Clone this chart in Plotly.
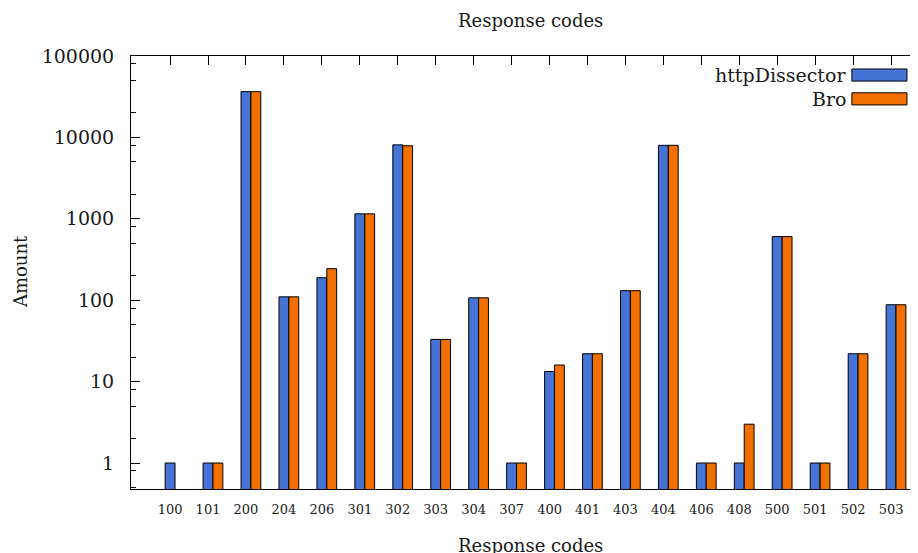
import plotly.graph_objects as go

codes = ["100", "101", "200", "204", "206", "301", "302", "303", "304", "307",
         "400", "401", "403", "404", "406", "408", "500", "501", "502", "503"]
http_dissector = [1, 1, 36500, 110, 189, 1150, 8100, 33, 107, 1,
                  13.3, 22, 131, 8000, 1, 1, 605, 1, 22, 88]
bro = [None, 1, 36500, 110, 244, 1150, 7900, 33, 107, 1,
       16, 22, 131, 8000, 1, 3, 605, 1, 22, 88]
series_names = ["httpDissector", "Bro"]
colors = ["#4573D6", "#F27000"]

FONT = "DejaVu Serif"
TXT = "#1a1a1a"

fig = go.Figure()
fig.add_trace(go.Bar(x=codes, y=http_dissector, name=series_names[0],
                     marker=dict(color=colors[0], line=dict(color="black", width=1)),
                     width=0.26, offset=-0.13, showlegend=False))
fig.add_trace(go.Bar(x=codes, y=bro, name=series_names[1],
                     marker=dict(color=colors[1], line=dict(color="black", width=1)),
                     width=0.26, offset=0.13, showlegend=False))

minor_vals = []
for e in range(-1, 6):
    for m in (2, 5, 8):
        minor_vals.append(m * 10 ** e)

# page body has an 8px margin, so the figure is 8px smaller and shifted
fig.update_layout(
    width=910, height=545,
    margin=dict(l=123, r=0, t=48, b=64),
    paper_bgcolor="white", plot_bgcolor="white",
    barmode="overlay",
    font=dict(family=FONT, color=TXT),
    xaxis=dict(
        type="category", range=[-1.03, 19.71],
        showline=True, linecolor="black", linewidth=1, mirror="ticks",
        ticks="inside", ticklen=9, tickcolor="black", tickwidth=1,
        tickfont=dict(family=FONT, size=13, color=TXT),
        ticklabelstandoff=8, showgrid=False, zeroline=False,
        layer="below traces",
    ),
    yaxis=dict(
        type="log", range=[-0.319, 5.0],
        showline=True, linecolor="black", linewidth=1, mirror=False,
        ticks="inside", ticklen=9, tickcolor="black", tickwidth=1,
        tickmode="array", tickvals=[1, 10, 100, 1000, 10000, 100000],
        ticktext=["1", "10", "100", "1000", "10000", "100000"],
        tickfont=dict(family=FONT, size=19, color=TXT),
        ticklabelstandoff=12, showgrid=False, zeroline=False,
        minor=dict(tickmode="array", tickvals=minor_vals, ticks="inside",
                   ticklen=5, tickcolor="black", tickwidth=1, showgrid=False),
    ),
)

annotations = [
    dict(text="Response codes", x=0.507, y=1.083, xref="paper", yref="paper",
         xanchor="center", yanchor="middle", showarrow=False,
         font=dict(family=FONT, size=18, color=TXT)),
    dict(text="Response codes", x=0.507, y=-0.13, xref="paper", yref="paper",
         xanchor="center", yanchor="middle", showarrow=False,
         font=dict(family=FONT, size=18, color=TXT)),
    dict(text="Amount", x=-0.141, y=0.501, xref="paper", yref="paper",
         xanchor="center", yanchor="middle", showarrow=False, textangle=-90,
         font=dict(family=FONT, size=18, color=TXT)),
]
legend_y = [(0.942, 0.970), (0.887, 0.915)]
shapes = []
for name, col, (y0, y1) in zip(series_names, colors, legend_y):
    annotations.append(dict(text=name, x=0.911, y=(y0 + y1) / 2, xref="paper", yref="paper",
                            xanchor="right", yanchor="middle", showarrow=False,
                            font=dict(family=FONT, size=19, color=TXT)))
    shapes.append(dict(type="rect", xref="paper", yref="paper", x0=0.916, x1=0.986,
                       y0=y0, y1=y1, fillcolor=col, line=dict(color="black", width=1)))
fig.update_layout(annotations=annotations, shapes=shapes)

fig.write_html("out.html")
